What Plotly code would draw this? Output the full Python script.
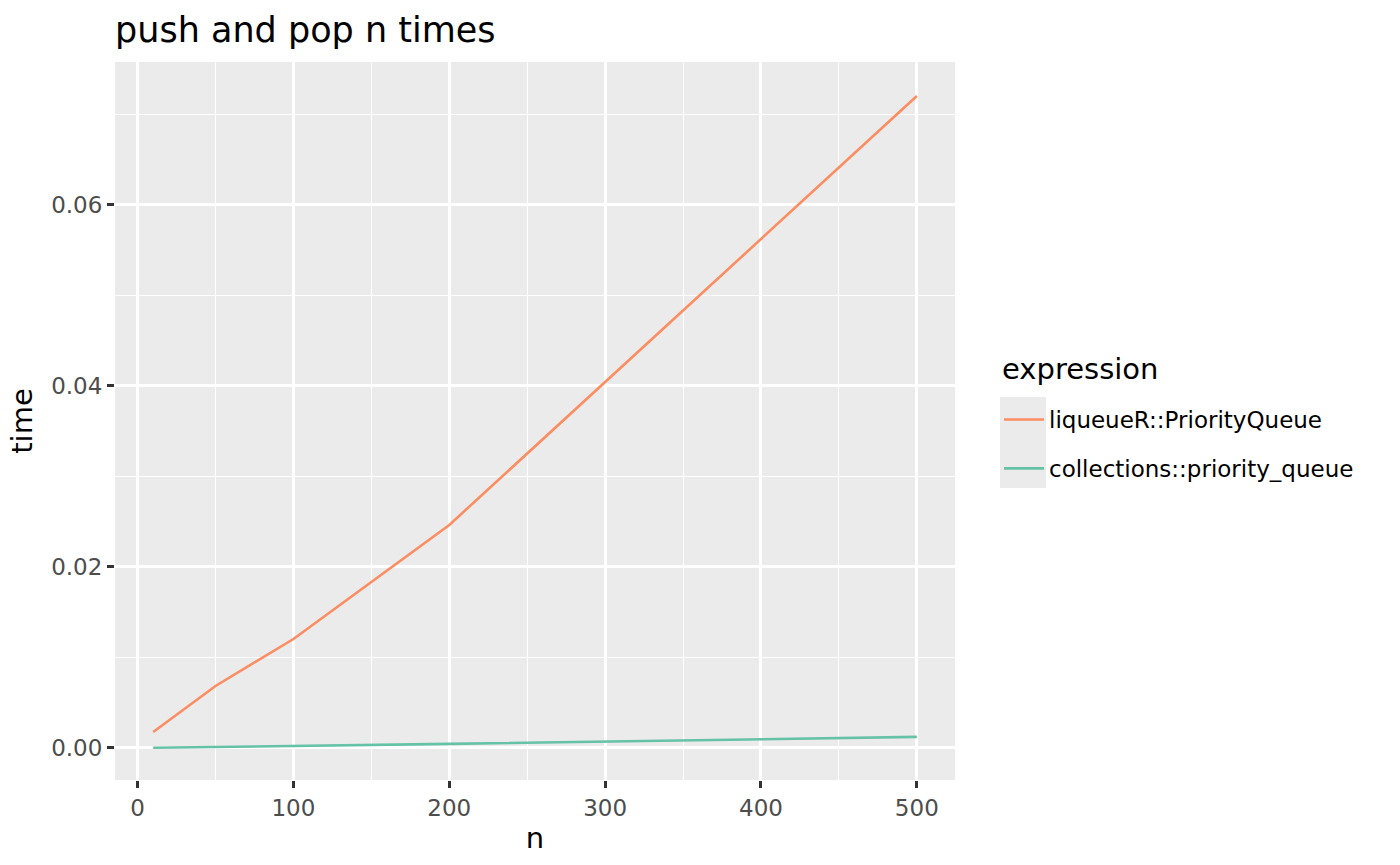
import plotly.graph_objects as go

n_values = [10, 50, 100, 200, 500]
liqueue_time = [0.00177, 0.00685, 0.01204, 0.02464, 0.07204]
collections_time = [0.00002, 0.00010, 0.00020, 0.00045, 0.00122]
series_names = ["liqueueR::PriorityQueue", "collections::priority_queue"]
series_colors = ["#FC8D62", "#66C2A5"]
x_ticks = [0, 100, 200, 300, 400, 500]
x_minor = [50, 150, 250, 350, 450]
y_ticks = [0.00, 0.02, 0.04, 0.06]
y_minor = [0.01, 0.03, 0.05, 0.07]
y_tick_labels = ["0.00", "0.02", "0.04", "0.06"]

FONT = "DejaVu Sans"
L, R, T, B = 115, 445, 62, 85
W, H = 1400, 865
PW, PH = W - L - R, H - T - B

fig = go.Figure()
for name, ys, col in zip(series_names, [liqueue_time, collections_time], series_colors):
    fig.add_trace(go.Scatter(x=n_values, y=ys, mode="lines", name=name,
                             legendgroup=name,
                             line=dict(color=col, width=2.6)))

def px_x(p):
    return (p - L) / PW

def px_y(p):
    return (H - B - p) / PH

axis_common = dict(
    showgrid=True, gridcolor="white", gridwidth=2.8,
    zeroline=False, showline=False,
    ticks="outside", ticklen=7, tickwidth=2.8, tickcolor="#333333",
    tickfont=dict(family=FONT, size=23, color="#4D4D4D"),
)

fig.update_xaxes(range=[-14.5, 524.5], tickvals=x_ticks,
                 minor=dict(tickvals=x_minor, showgrid=True,
                            gridcolor="white", gridwidth=1.4, ticks=""),
                 title=dict(text="n", font=dict(family=FONT, size=29, color="black"), standoff=8),
                 **axis_common)
fig.update_yaxes(range=[-0.00354, 0.0758], tickvals=y_ticks, ticktext=y_tick_labels,
                 minor=dict(tickvals=y_minor, showgrid=True,
                            gridcolor="white", gridwidth=1.4, ticks=""),
                 title=dict(text="time", font=dict(family=FONT, size=29, color="black"), standoff=10),
                 **axis_common)

fig.add_shape(type="rect", xref="paper", yref="paper",
              x0=px_x(1000), x1=px_x(1046), y0=px_y(488), y1=px_y(397),
              fillcolor="#EBEBEB", line=dict(width=0), layer="below")

fig.add_annotation(text="expression", xref="paper", yref="paper",
                   x=px_x(1000), xanchor="left", y=px_y(369), yanchor="middle",
                   showarrow=False, font=dict(family=FONT, size=29, color="black"))

fig.update_layout(
    width=W, height=H,
    margin=dict(l=L, r=R, t=T, b=B),
    paper_bgcolor="white", plot_bgcolor="#EBEBEB",
    font=dict(family=FONT, color="black"),
    title=dict(text="push and pop n times", x=0, xref="paper", xanchor="left",
               y=1 - 30 / H, yanchor="middle",
               font=dict(family=FONT, size=35, color="black")),
    showlegend=True,
    legend=dict(
        font=dict(family=FONT, size=23, color="black"),
        x=px_x(999), xanchor="left", y=px_y(398), yanchor="top",
        bgcolor="rgba(0,0,0,0)", borderwidth=0,
        traceorder="grouped", tracegroupgap=16,
        itemwidth=40,
    ),
)

fig.write_html("out.html", config={"displayModeBar": False},
               post_script="document.body.style.margin='0';")
